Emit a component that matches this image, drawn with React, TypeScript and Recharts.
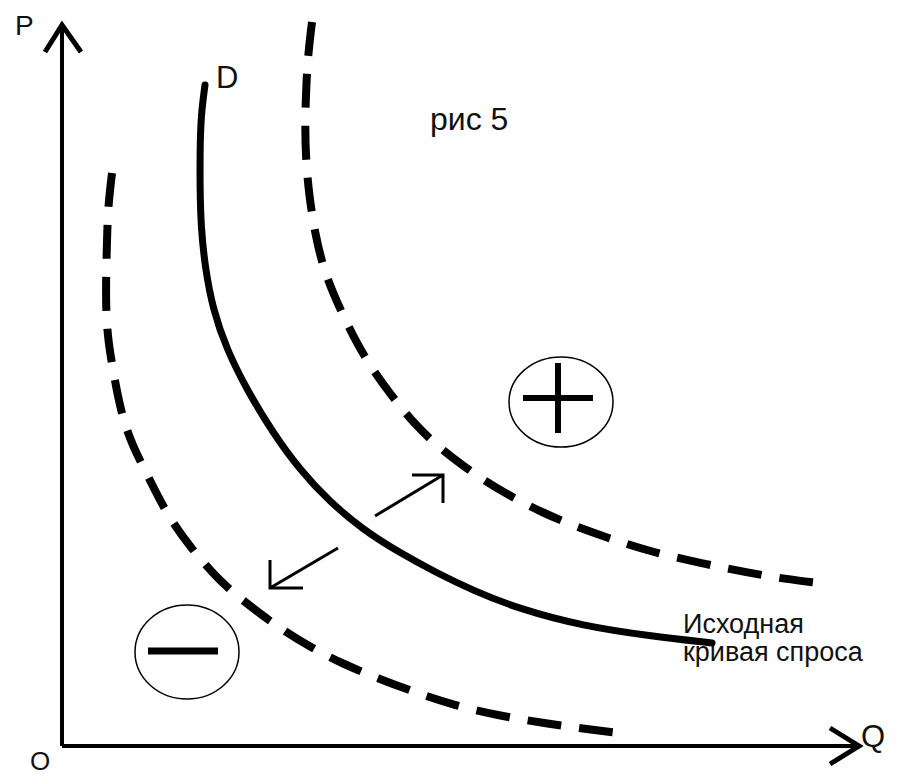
import React from 'react';
import { LineChart, Line, XAxis, YAxis, ReferenceDot } from 'recharts';

// Q and P; origin O is where the axes meet
const demandD = [
  { q: 143, p: 661 }, { q: 139, p: 631 }, { q: 138, p: 596 }, { q: 138, p: 556 },
  { q: 139, p: 519 }, { q: 143, p: 479 }, { q: 151, p: 436 }, { q: 165, p: 396 },
  { q: 185, p: 356 }, { q: 211, p: 313 }, { q: 238, p: 276 }, { q: 267, p: 245 },
  { q: 300, p: 217 }, { q: 338, p: 193 }, { q: 375, p: 173 }, { q: 410, p: 156 },
  { q: 457, p: 137 }, { q: 521, p: 120 }, { q: 588, p: 110 }, { q: 650, p: 103 },
];

const demandUp = [
  { q: 250, p: 724 }, { q: 246, p: 691 }, { q: 244, p: 656 }, { q: 243, p: 616 },
  { q: 244, p: 586 }, { q: 247, p: 551 }, { q: 253, p: 513 }, { q: 260, p: 483 },
  { q: 270, p: 455 }, { q: 286, p: 420 }, { q: 304, p: 386 }, { q: 328, p: 352 },
  { q: 354, p: 320 }, { q: 378, p: 298 }, { q: 400, p: 281 }, { q: 420, p: 267 },
  { q: 448, p: 250 }, { q: 481, p: 233 }, { q: 515, p: 219 }, { q: 555, p: 205 },
  { q: 590, p: 194 }, { q: 638, p: 183 }, { q: 688, p: 173 }, { q: 723, p: 167 },
  { q: 756, p: 163 },
];

const demandDown = [
  { q: 50, p: 573 }, { q: 46, p: 539 }, { q: 45, p: 506 }, { q: 44, p: 466 },
  { q: 44, p: 436 }, { q: 46, p: 406 }, { q: 51, p: 376 }, { q: 59, p: 333 },
  { q: 70, p: 301 }, { q: 86, p: 270 }, { q: 104, p: 233 }, { q: 128, p: 199 },
  { q: 158, p: 164 }, { q: 188, p: 140 }, { q: 216, p: 119 }, { q: 248, p: 99 },
  { q: 281, p: 82 }, { q: 315, p: 68 }, { q: 355, p: 53 }, { q: 391, p: 41 },
  { q: 438, p: 30 }, { q: 488, p: 22 }, { q: 523, p: 17 }, { q: 556, p: 13 },
];

const axisP = [{ q: 0, p: 0 }, { q: 0, p: 721 }];
const axisPHead = [{ q: -17, p: 694 }, { q: 0, p: 721 }, { q: 19, p: 694 }];
const axisQ = [{ q: 0, p: 0 }, { q: 797, p: 0 }];
const axisQHead = [{ q: 768, p: 18 }, { q: 797, p: 0 }, { q: 768, p: -18 }];

const arrowUp = [{ q: 313, p: 230 }, { q: 381, p: 271 }];
const arrowUpHead = [{ q: 350, p: 271 }, { q: 381, p: 271 }, { q: 381, p: 243 }];
const arrowDown = [{ q: 276, p: 198 }, { q: 208, p: 158 }];
const arrowDownHead = [{ q: 208, p: 186 }, { q: 208, p: 158 }, { q: 241, p: 158 }];

const plusH = [{ q: 461, p: 348 }, { q: 531, p: 348 }];
const plusV = [{ q: 496, p: 383 }, { q: 496, p: 313 }];
const minusH = [{ q: 86, p: 95 }, { q: 156, p: 95 }];

const plusCircle = { q: 499, p: 344 };
const minusCircle = { q: 125, p: 94 };

const labels = [
  { text: 'P', q: -47, p: 711, size: 28 },
  { text: 'D', q: 154, p: 658, size: 31 },
  { text: 'рис 5', q: 368, p: 616, size: 32 },
  { text: 'Исходная', q: 621, p: 113, size: 27 },
  { text: 'кривая спроса', q: 621, p: 85, size: 27 },
  { text: 'Q', q: 799, p: -1, size: 31 },
  { text: 'O', q: -32, p: -24, size: 26 },
];

const FONT = '"Liberation Sans", Arial, sans-serif';

const seg = (key: string, data: { q: number; p: number }[], width: number) => (
  <Line
    key={key}
    data={data}
    dataKey="p"
    type="linear"
    stroke="#000"
    strokeWidth={width}
    strokeLinejoin="miter"
    dot={false}
    activeDot={false}
    isAnimationActive={false}
  />
);

export default function App() {
  return (
    <div style={{ position: 'absolute', left: 0, top: 0, width: 901, height: 775, background: '#fff' }}>
      <LineChart width={901} height={775} margin={{ top: 0, right: 0, bottom: 0, left: 0 }}>
        <XAxis dataKey="q" type="number" domain={[-62, 839]} hide allowDataOverflow />
        <YAxis type="number" domain={[-29, 746]} hide allowDataOverflow />

        {seg('axisP', axisP, 4)}
        {seg('axisPHead', axisPHead, 5)}
        {seg('axisQ', axisQ, 4)}
        {seg('axisQHead', axisQHead, 5)}

        <Line data={demandDown} dataKey="p" type="basis" stroke="#000" strokeWidth={8}
          strokeDasharray="34 18" dot={false} activeDot={false} isAnimationActive={false} />
        <Line data={demandUp} dataKey="p" type="basis" stroke="#000" strokeWidth={8}
          strokeDasharray="34 18" dot={false} activeDot={false} isAnimationActive={false} />
        <Line data={demandD} dataKey="p" type="basis" stroke="#000" strokeWidth={7}
          strokeLinecap="round" dot={false} activeDot={false} isAnimationActive={false} />

        {seg('arrowUp', arrowUp, 3)}
        {seg('arrowUpHead', arrowUpHead, 3)}
        {seg('arrowDown', arrowDown, 3)}
        {seg('arrowDownHead', arrowDownHead, 3)}

        <ReferenceDot x={plusCircle.q} y={plusCircle.p} ifOverflow="visible"
          shape={(props: any) => (
            <ellipse cx={props.cx} cy={props.cy} rx={52} ry={45} fill="none" stroke="#000" strokeWidth={1.5} />
          )} />
        <ReferenceDot x={minusCircle.q} y={minusCircle.p} ifOverflow="visible"
          shape={(props: any) => (
            <ellipse cx={props.cx} cy={props.cy} rx={52} ry={47} fill="none" stroke="#000" strokeWidth={1.5} />
          )} />
        {seg('plusH', plusH, 6)}
        {seg('plusV', plusV, 6)}
        {seg('minusH', minusH, 7)}

        {labels.map((l) => (
          <ReferenceDot key={l.text} x={l.q} y={l.p} ifOverflow="visible"
            shape={(props: any) => (
              <text x={props.cx} y={props.cy} fontSize={l.size} fontFamily={FONT} fill="#111">{l.text}</text>
            )} />
        ))}
      </LineChart>
    </div>
  );
}
